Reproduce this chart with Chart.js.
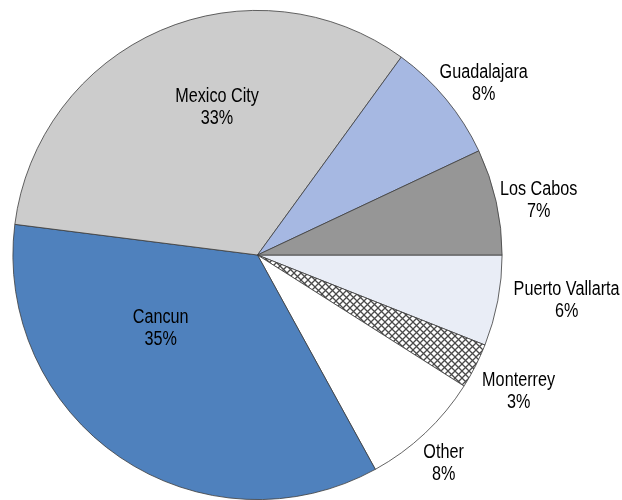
<!DOCTYPE html>
<html>
<head>
<meta charset="utf-8">
<script src="https://cdn.jsdelivr.net/npm/chart.js@4"></script>
<style>
  html, body { margin: 0; padding: 0; background: #ffffff; }
  #wrap { width: 622px; height: 500px; position: relative; }
</style>
</head>
<body>
<div id="wrap"><canvas id="chartPie"></canvas></div>
<script>
// Dados do gráfico (ordem horária a partir das 3h)
const cities = ['Puerto Vallarta', 'Monterrey', 'Other', 'Cancun', 'Mexico City', 'Guadalajara', 'Los Cabos'];
const shares = [6, 3, 8, 35, 33, 8, 7];
const sliceColors = ['#e9edf6', 'hatch', '#ffffff', '#4f81bd', '#cccccc', '#a6b8e2', '#969696'];

// Padrão xadrez diagonal para Monterrey
function makeHatch() {
    const s = 7;
    const c = document.createElement('canvas');
    c.width = s;
    c.height = s;
    const g = c.getContext('2d');
    g.fillStyle = '#ffffff';
    g.fillRect(0, 0, s, s);
    g.strokeStyle = '#4a4a4a';
    g.lineWidth = 1.3;
    g.beginPath();
    g.moveTo(-1, -1); g.lineTo(s + 1, s + 1);
    g.moveTo(s + 1, -1); g.lineTo(-1, s + 1);
    g.stroke();
    return g.createPattern(c, 'repeat');
}

// Posição dos rótulos: deslocamento angular (graus) e raio relativo
const labelLayout = {
    'Puerto Vallarta': { shift: -2.5, dist: 1.277 },
    'Monterrey': { shift: 0.65, dist: 1.205 },
    'Other': { shift: 1.46, dist: 1.143 },
    'Cancun': { shift: 18.6, dist: 0.497 },
    'Mexico City': { shift: 8.1, dist: 0.627 },
    'Guadalajara': { shift: 2.4, dist: 1.161 },
    'Los Cabos': { shift: 1.55, dist: 1.171 }
};

// Fonte estreita simulada (Arial Narrow ~ 82% da largura)
const NARROW = 0.81;

const labelPlugin = {
    id: 'sliceLabels',
    afterDatasetsDraw(chart) {
        const ctx = chart.ctx;
        const meta = chart.getDatasetMeta(0);
        meta.data.forEach((arc, i) => {
            const name = chart.data.labels[i];
            const lay = labelLayout[name];
            const mid = (arc.startAngle + arc.endAngle) / 2 + lay.shift * Math.PI / 180;
            const r = arc.outerRadius * lay.dist;
            const x = arc.x + Math.cos(mid) * r;
            const y = arc.y + Math.sin(mid) * r;
            ctx.save();
            ctx.translate(x, y);
            ctx.scale(NARROW, 1);
            ctx.font = '20px "Liberation Sans", Arial, sans-serif';
            ctx.fillStyle = '#000000';
            ctx.textAlign = 'center';
            ctx.textBaseline = 'middle';
            ctx.fillText(name, 0, -11);
            ctx.fillText(shares[i] + '%', 0, 11);
            ctx.restore();
        });
    }
};

const hatch = makeHatch();

new Chart(document.getElementById('chartPie'), {
    type: 'pie',
    data: {
        labels: cities,
        datasets: [{
            data: shares,
            backgroundColor: sliceColors.map(c => c === 'hatch' ? hatch : c),
            borderColor: '#3c3c3c',
            borderWidth: 0.8
        }]
    },
    options: {
        responsive: true,
        maintainAspectRatio: false,
        animation: false,
        rotation: 90,
        layout: {
            padding: { top: 10, bottom: 0, left: 12, right: 119 }
        },
        plugins: {
            legend: { display: false },
            tooltip: { enabled: false }
        }
    },
    plugins: [labelPlugin]
});
</script>
</body>
</html>
